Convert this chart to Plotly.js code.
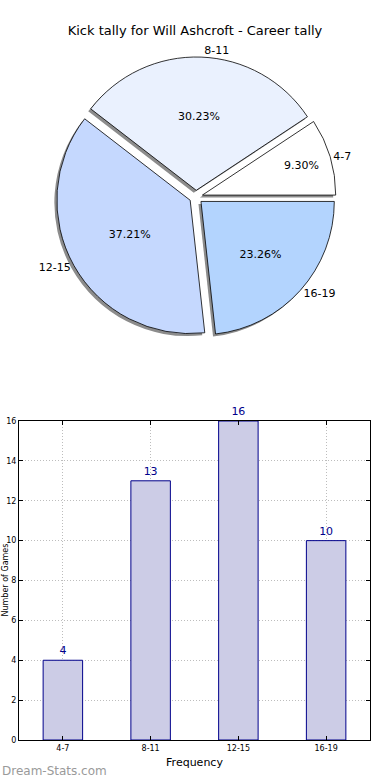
<!DOCTYPE html>
<html>
<head>
<meta charset="utf-8">
<script src="https://cdn.plot.ly/plotly-3.0.1.min.js"></script>
<style>html,body{margin:0;padding:0;background:#fff;}#chart{width:390px;height:780px;}</style>
</head>
<body>
<div id="chart"></div>
<script>
var categories = ['4-7', '8-11', '12-15', '16-19'];
var counts = [4, 13, 16, 10];
var sliceColors = ['#ffffff', '#eaf1fe', '#c5d8fe', '#b3d4fe'];
var yTicks = [0, 2, 4, 6, 8, 10, 12, 14, 16];
var titleText = 'Kick tally for Will Ashcroft - Career tally';
var xTitle = 'Frequency';
var yTitle = 'Number of Games';
var watermark = 'Dream-Stats.com';

var W = 390, H = 780;
var FONT = 'DejaVu Sans, sans-serif';
function px(x) { return x / W; }
function py(y) { return 1 - y / H; }

var total = counts.reduce(function (a, b) { return a + b; }, 0);
// start the first slice at 3 o'clock, going counterclockwise
var rot = 90 - 360 * counts[0] / total;

var pieSize = 280, cx = 196, cy = 197;
var pieDom = {x: [px(cx - pieSize / 2), px(cx + pieSize / 2)], y: [py(cy + pieSize / 2), py(cy - pieSize / 2)]};
var sh = 2.5;
var shadowDom = {x: [px(cx - pieSize / 2 - sh), px(cx + pieSize / 2 - sh)], y: [py(cy + pieSize / 2 + sh), py(cy - pieSize / 2 + sh)]};
var pulls = [0.05, 0.05, 0.05, 0.05];

var shadow = {
  type: 'pie', values: counts, labels: categories, sort: false,
  direction: 'counterclockwise', rotation: rot, pull: pulls,
  marker: {colors: categories.map(function () { return '#8c8c8c'; }), line: {width: 0}},
  textinfo: 'none', hoverinfo: 'skip', showlegend: false, domain: shadowDom
};
var pie = {
  type: 'pie', values: counts, labels: categories, sort: false,
  direction: 'counterclockwise', rotation: rot, pull: pulls,
  marker: {colors: sliceColors, line: {color: '#000000', width: 0.8}},
  textinfo: 'percent', texttemplate: '%{percent:.2%}', textposition: 'inside',
  insidetextorientation: 'horizontal',
  textfont: {family: FONT, size: 11, color: '#000'},
  showlegend: false, domain: pieDom
};
var pieLabels = {
  type: 'pie', values: counts, labels: categories, sort: false,
  direction: 'counterclockwise', rotation: rot, pull: pulls,
  marker: {colors: categories.map(function () { return 'rgba(0,0,0,0)'; }), line: {width: 0}},
  textinfo: 'label', textposition: 'outside',
  outsidetextfont: {family: FONT, size: 11, color: '#000'},
  hoverinfo: 'skip', showlegend: false, domain: pieDom
};
var bars = {
  type: 'bar', x: categories, y: counts, width: 0.45,
  marker: {color: '#ccccE6', line: {color: '#00008b', width: 1}},
  text: counts.map(String), textposition: 'outside', cliponaxis: false,
  textfont: {family: FONT, size: 11, color: '#00008b'},
  xaxis: 'x', yaxis: 'y', showlegend: false
};

var layout = {
  width: W, height: H,
  margin: {l: 0, r: 0, t: 0, b: 0},
  paper_bgcolor: '#fff', plot_bgcolor: '#fff',
  font: {family: FONT, color: '#000'},
  title: {text: titleText, font: {family: FONT, size: 13, color: '#000'}, x: 0.5, xanchor: 'center', y: py(30), yanchor: 'middle'},
  xaxis: {
    domain: [px(19), px(370)], range: [-0.5, 3.5], type: 'category',
    showgrid: true, gridcolor: '#bdbdbd', griddash: '1px,2px', gridwidth: 1,
    showline: true, linecolor: '#000', linewidth: 1, mirror: 'ticks',
    ticks: 'inside', ticklen: 4, tickcolor: '#000',
    tickfont: {family: FONT, size: 8, color: '#000'},
    title: {text: xTitle, font: {family: FONT, size: 11, color: '#000'}, standoff: 6},
    zeroline: false, fixedrange: true
  },
  yaxis: {
    domain: [py(740), py(421)], range: [0, 16],
    tickvals: yTicks, ticktext: yTicks.map(String),
    showgrid: true, gridcolor: '#bdbdbd', griddash: '1px,2px', gridwidth: 1,
    showline: true, linecolor: '#000', linewidth: 1, mirror: 'ticks',
    ticks: 'inside', ticklen: 4, tickcolor: '#000',
    tickfont: {family: FONT, size: 8, color: '#000'},
    zeroline: false, fixedrange: true
  },
  annotations: [{
    text: watermark, xref: 'paper', yref: 'paper', x: 0, y: py(771),
    xanchor: 'left', yanchor: 'middle', showarrow: false,
    font: {family: FONT, size: 12, color: '#9a9a9a'}
  }, {
    text: yTitle, xref: 'paper', yref: 'paper', x: px(4.5), y: py(580),
    xanchor: 'center', yanchor: 'middle', textangle: -90, showarrow: false,
    font: {family: FONT, size: 8, color: '#000'}
  }]
};

Plotly.newPlot('chart', [shadow, pie, pieLabels, bars], layout, {displayModeBar: false, staticPlot: true});
</script>
</body>
</html>
